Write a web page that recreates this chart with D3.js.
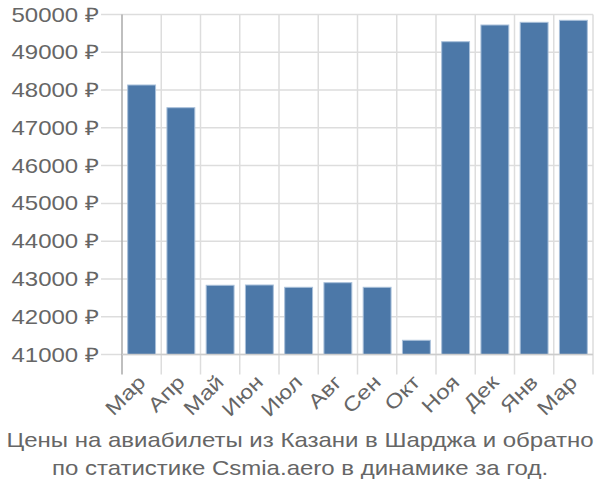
<!DOCTYPE html>
<html><head><meta charset="utf-8">
<script src="https://cdn.jsdelivr.net/npm/d3@7"></script>
<style>body{margin:0;background:#fff;} text{font-family:"Liberation Sans",Arial,sans-serif;}</style>
</head><body>
<svg id="c" width="600" height="500"></svg>
<script>
const months = ["Мар","Апр","Май","Июн","Июл","Авг","Сен","Окт","Ноя","Дек","Янв","Мар"];
const prices = [48134,47533,42832,42840,42779,42901,42779,41376,49280,49722,49793,49846];
const yTicks = [41000,42000,43000,44000,45000,46000,47000,48000,49000,50000];
const titleLines = ["Цены на авиабилеты из Казани в Шарджа и обратно","по статистике Csmia.aero в динамике за год."];

const svg = d3.select("#c");
const L=122, R=593, T=14.5, B=354.5;
const SX = 1.2;
const idx = months.map((d,i)=>i);
const x = d3.scaleBand().domain(idx).range([L,R]).paddingInner(0.29).paddingOuter(0.145);
const xg = d3.scaleBand().domain(idx).range([L,R]);
const y = d3.scaleLinear().domain([41000,50000]).range([B,T]);

svg.append("g").selectAll("line").data(yTicks).join("line")
  .attr("x1",101).attr("x2",R).attr("y1",d=>y(d)).attr("y2",d=>y(d))
  .attr("stroke","#dddddd").attr("stroke-width",1.5);
const vx = idx.map(i=>xg(i)).concat([R]);
svg.append("g").selectAll("line").data(vx.slice(1)).join("line")
  .attr("x1",d=>d).attr("x2",d=>d).attr("y1",T).attr("y2",B+20)
  .attr("stroke","#dddddd").attr("stroke-width",1.5);
svg.append("g").selectAll("rect").data(prices).join("rect")
  .attr("x",(d,i)=>x(i)).attr("width",x.bandwidth())
  .attr("y",d=>y(d)).attr("height",d=>B-y(d))
  .attr("fill","#4c78a8").attr("stroke","#a9c0da").attr("stroke-width",1);
svg.append("line").attr("x1",L).attr("x2",L).attr("y1",T).attr("y2",B+20).attr("stroke","#aaaaaa").attr("stroke-width",1.5);
svg.append("line").attr("x1",L).attr("x2",R).attr("y1",B).attr("y2",B).attr("stroke","#cccccc").attr("stroke-width",1.5);
svg.append("g").selectAll("text").data(yTicks).join("text")
  .attr("transform",d=>`translate(99,${y(d)}) scale(${SX},1)`)
  .attr("dy","0.35em").attr("text-anchor","end")
  .attr("font-size",20).attr("fill","#666666").text(d=>d+" ₽");
svg.append("g").selectAll("text").data(months).join("text")
  .attr("text-anchor","end").attr("font-size",20).attr("fill","#666666")
  .attr("dy","0.35em")
  .attr("transform",(d,i)=>`translate(${x(i)+x.bandwidth()/2},${B+24}) rotate(-45) scale(${SX},1)`)
  .text(d=>d);
svg.append("g").selectAll("text").data(titleLines).join("text")
  .attr("transform",(d,i)=>`translate(300,${447+i*28}) scale(${SX},1)`).attr("text-anchor","middle")
  .attr("font-size",20).attr("fill","#666666").text(d=>d);
</script>
</body></html>
